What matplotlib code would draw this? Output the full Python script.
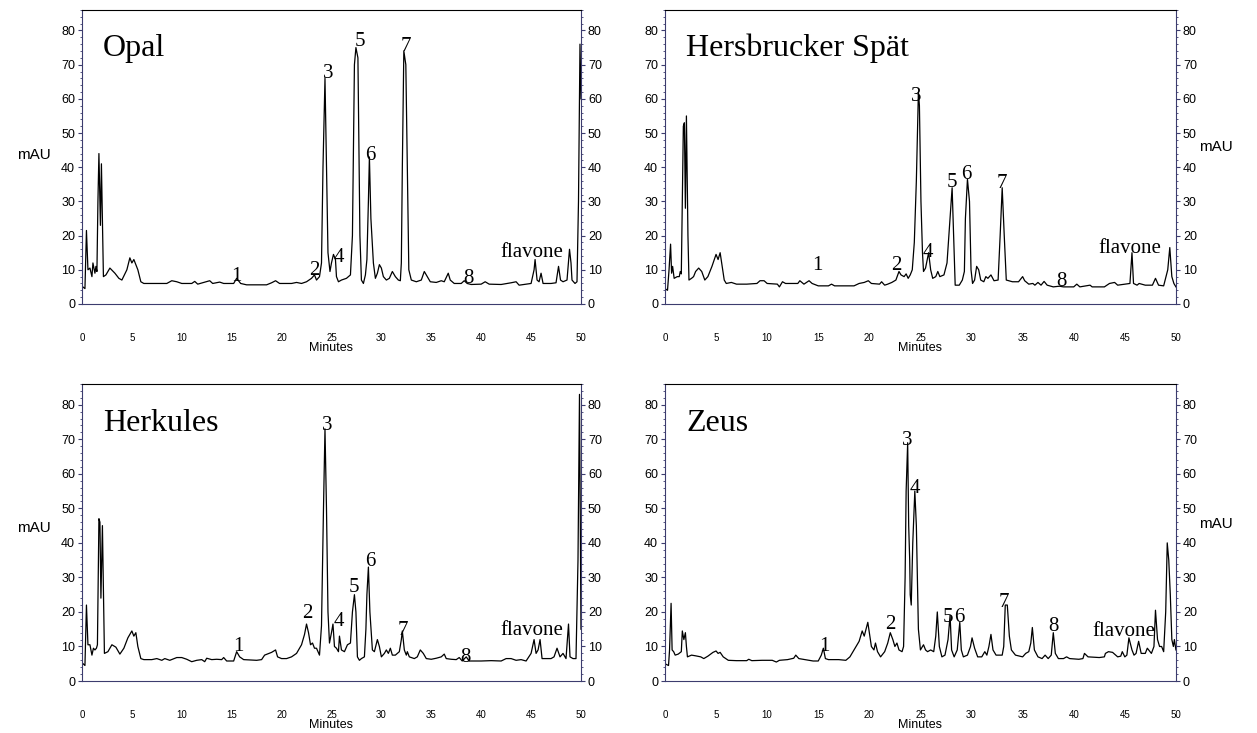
import numpy as np
import matplotlib.pyplot as plt
from matplotlib.ticker import MultipleLocator

# (retention time in minutes, absorbance in mAU)
opal = [(0.0, 5.2), (0.3, 4.5), (0.45, 21.5), (0.6, 10), (0.8, 10.5), (1.0, 8), (1.1, 12), (1.3, 9),
        (1.4, 11), (1.5, 9.5), (1.6, 30), (1.7, 44), (1.85, 23), (1.95, 41), (2.15, 8), (2.4, 8.5),
        (2.8, 10.5), (3.3, 9), (3.7, 7.5), (4.0, 7), (4.5, 10), (4.8, 13.5), (5.0, 12), (5.2, 13),
        (5.6, 10), (5.9, 6.5), (6.2, 6), (8.5, 6), (9.0, 6.8), (9.5, 6.5), (10.0, 6), (11.0, 6),
        (11.3, 6.6), (11.6, 5.8), (12.8, 6.8), (13.1, 6), (13.8, 6.4), (14.2, 6), (15.2, 6), (15.5, 7.5),
        (15.9, 6), (16.5, 5.6), (18.5, 5.6), (19.0, 6.2), (19.4, 6.8), (19.8, 6), (21.0, 6), (21.5, 6.3),
        (22.0, 6), (22.5, 6.5), (23.0, 7.5), (23.3, 8.5), (23.5, 7), (23.8, 8), (24.0, 12), (24.15, 40),
        (24.35, 66), (24.5, 40), (24.65, 15), (24.85, 9.5), (25.0, 12), (25.2, 14.5), (25.4, 13), (25.5, 8),
        (25.7, 6.5), (26.0, 7), (26.5, 7.5), (26.9, 8.5), (27.1, 20), (27.3, 70), (27.45, 75), (27.65, 72),
        (27.85, 20), (28.0, 7), (28.2, 6), (28.4, 8.5), (28.55, 13), (28.7, 30), (28.8, 43), (28.95, 25),
        (29.2, 12), (29.4, 7.5), (29.6, 9), (29.8, 11.5), (30.0, 10.5), (30.2, 8), (30.5, 7), (30.8, 7.5),
        (31.1, 9.5), (31.4, 8), (31.7, 7), (31.9, 6.8), (32.0, 12), (32.1, 40), (32.25, 74), (32.45, 70),
        (32.6, 40), (32.75, 10), (33.0, 7), (33.5, 6.5), (34.0, 7), (34.3, 9.5), (34.6, 8), (34.9, 6.5),
        (35.5, 6.3), (36.0, 6.8), (36.3, 6.5), (36.7, 9), (36.9, 7), (37.3, 6), (38.0, 6), (38.3, 6.8),
        (38.6, 6), (39.0, 5.7), (40.0, 5.8), (40.4, 6.5), (40.8, 5.8), (42.0, 5.7), (43.0, 6.2), (43.5, 6.5),
        (43.8, 5.5), (44.5, 5.8), (45.0, 6), (45.3, 10), (45.4, 13), (45.6, 7), (45.8, 6.5), (46.0, 9),
        (46.2, 6), (47.0, 6), (47.5, 6.2), (47.75, 11), (47.95, 7), (48.2, 6.5), (48.6, 7), (48.85, 16),
        (49.0, 12), (49.1, 7), (49.4, 6), (49.6, 6.5), (49.75, 30), (49.9, 76), (50.0, 60)]

hersbrucker = [(0.0, 4.5), (0.25, 4), (0.4, 10), (0.55, 17.5), (0.65, 9), (0.75, 11), (0.9, 7.5), (1.2, 8),
               (1.4, 8), (1.5, 9.5), (1.6, 8.8), (1.7, 30), (1.8, 52), (1.9, 53), (2.0, 28), (2.1, 55),
               (2.25, 20), (2.35, 7), (2.6, 7.5), (2.8, 8), (3.0, 9.5), (3.3, 10.5), (3.6, 9.5), (3.9, 7),
               (4.2, 8), (4.6, 11), (5.0, 14.5), (5.2, 13), (5.4, 15), (5.6, 11), (5.8, 7), (6.0, 6),
               (6.5, 6.3), (7.0, 5.8), (8.0, 5.8), (9.0, 6), (9.3, 6.8), (9.7, 6.8), (10.0, 6), (11.0, 5.8),
               (11.2, 5), (11.5, 6.5), (11.8, 6), (13.0, 6), (13.2, 6.8), (13.6, 5.8), (14.1, 6.8), (14.4, 6),
               (15.0, 5.3), (16.0, 5.3), (16.3, 5.8), (16.6, 5.3), (18.5, 5.3), (19.0, 6), (19.5, 6.3),
               (19.9, 6.8), (20.2, 6), (21.0, 5.8), (21.2, 6.5), (21.5, 5.5), (21.8, 5.8), (22.2, 6.3),
               (22.6, 7), (22.9, 9.5), (23.1, 8.5), (23.4, 8), (23.6, 8.8), (23.8, 7.5), (24.0, 8.5),
               (24.2, 10), (24.4, 18), (24.6, 36), (24.8, 62), (24.9, 58), (25.05, 30), (25.2, 15),
               (25.3, 9.5), (25.5, 10.5), (25.8, 15), (26.0, 10), (26.2, 7.5), (26.5, 8), (26.7, 9.5),
               (26.9, 8), (27.3, 8.5), (27.6, 12), (27.9, 25), (28.1, 34), (28.25, 20), (28.4, 5.5),
               (28.8, 5.5), (29.1, 7), (29.3, 9.5), (29.4, 25), (29.6, 36.5), (29.8, 30), (29.95, 10),
               (30.1, 6), (30.3, 7), (30.5, 11), (30.7, 10), (30.9, 7), (31.2, 6.5), (31.4, 8), (31.6, 7.5),
               (31.9, 8.5), (32.2, 6.8), (32.6, 7), (32.8, 20), (33.0, 34), (33.2, 20), (33.4, 7), (34.0, 6.5),
               (34.6, 6.5), (35.0, 8), (35.2, 6.8), (35.6, 5.8), (36.0, 6), (36.2, 5.5), (36.5, 6.3),
               (36.8, 5.5), (37.1, 6.6), (37.4, 5.5), (38.0, 5.0), (38.6, 5.2), (39.0, 5.0), (40.0, 5.0),
               (40.3, 5.8), (40.6, 5.0), (41.6, 5.5), (41.8, 5.0), (43.0, 5.0), (43.5, 6), (44.0, 6.3),
               (44.3, 5.5), (45.0, 5.8), (45.5, 6), (45.7, 15), (45.85, 6), (46.2, 5.5), (46.4, 6),
               (47.0, 5.5), (47.7, 5.5), (48.0, 7.5), (48.3, 5.5), (48.8, 5.3), (49.2, 10), (49.4, 16.5),
               (49.6, 8), (49.8, 6), (50.0, 5)]

herkules = [(0.0, 5.3), (0.3, 4.5), (0.45, 22), (0.6, 10.5), (0.8, 10.5), (1.0, 7.5), (1.15, 9.5), (1.3, 9),
            (1.45, 9.5), (1.55, 10.5), (1.7, 47), (1.8, 46), (1.9, 24), (2.05, 45), (2.25, 8), (2.6, 8.5),
            (3.0, 10.5), (3.4, 9.8), (3.8, 7.8), (4.2, 9.5), (4.6, 12.5), (5.0, 14.5), (5.2, 13), (5.4, 14),
            (5.6, 10), (5.9, 6.5), (6.2, 6.2), (7.0, 6.2), (7.5, 6.5), (8.0, 6.0), (8.3, 6.5), (8.8, 6.0),
            (9.5, 6.8), (10.0, 6.8), (10.5, 6.3), (11.0, 5.6), (11.5, 6.0), (12.0, 6.2), (12.3, 5.6),
            (12.5, 6.6), (13.0, 6.2), (13.5, 6.3), (14.0, 6.2), (14.2, 6.8), (14.5, 5.8), (15.2, 5.8),
            (15.5, 8.5), (15.8, 7), (16.2, 6.2), (17.5, 6.0), (18.0, 6.2), (18.3, 7.5), (19.0, 8.3),
            (19.4, 9), (19.6, 7), (20.0, 6.5), (20.5, 6.5), (21.0, 7), (21.5, 8), (22.0, 10.5), (22.3, 13.5),
            (22.5, 16.5), (22.7, 14), (22.9, 10.5), (23.1, 11), (23.3, 9.5), (23.5, 9.5), (23.8, 7.5),
            (24.0, 16), (24.2, 50), (24.35, 73), (24.5, 50), (24.65, 20), (24.8, 11), (25.0, 14),
            (25.15, 16.5), (25.3, 10), (25.5, 9.5), (25.7, 8.5), (25.8, 13), (26.0, 9), (26.3, 8.5),
            (26.6, 10.5), (26.9, 11), (27.1, 20), (27.3, 25), (27.45, 20), (27.6, 7), (27.8, 6), (28.0, 6.5),
            (28.3, 7), (28.45, 15), (28.55, 25), (28.7, 33), (28.85, 20), (29.1, 9), (29.3, 8.5), (29.6, 12),
            (29.8, 10), (30.0, 7), (30.3, 8), (30.5, 9), (30.7, 8), (30.9, 9.5), (31.1, 7.5), (31.4, 7.5),
            (31.8, 8.5), (32.0, 12), (32.1, 14.5), (32.3, 9), (32.5, 7.5), (32.6, 8.5), (32.8, 7),
            (33.3, 6.5), (33.6, 7), (33.9, 9), (34.2, 8), (34.5, 6.5), (35.0, 6.3), (35.5, 6.6), (36.0, 7),
            (36.3, 7.8), (36.5, 6.5), (37.0, 6.3), (37.5, 6.2), (37.8, 6.8), (38.1, 5.8), (38.5, 7),
            (38.8, 5.8), (40.0, 5.8), (41.0, 5.9), (42.0, 5.8), (42.5, 6.5), (43.0, 6.5), (43.5, 6.0),
            (44.0, 6.2), (44.5, 5.8), (45.0, 8), (45.3, 12), (45.5, 8), (45.7, 9), (45.9, 12), (46.1, 6.5),
            (46.5, 6.5), (47.0, 6.5), (47.3, 7), (47.6, 9.5), (47.9, 7), (48.2, 8), (48.5, 6.5),
            (48.75, 16.5), (48.9, 7), (49.2, 6.5), (49.5, 6.5), (49.7, 35), (49.85, 83), (50.0, 15)]

zeus = [(0.0, 5), (0.35, 4.5), (0.45, 9), (0.6, 22.5), (0.7, 9), (0.85, 8.5), (1.0, 7.5), (1.3, 7.8),
        (1.6, 8.5), (1.7, 14.5), (1.85, 12), (2.0, 14), (2.1, 10), (2.2, 7), (2.6, 7.5), (3.0, 7.3),
        (3.5, 7.0), (3.8, 6.5), (4.2, 7.2), (4.7, 8.3), (5.0, 8.7), (5.2, 8), (5.4, 8.3), (5.7, 7),
        (6.2, 6.0), (7.0, 5.9), (8.0, 5.9), (8.2, 6.3), (8.5, 5.9), (9.5, 6.0), (10.5, 6.0), (10.9, 5.5),
        (11.2, 6.0), (12.0, 6.2), (12.6, 6.6), (12.8, 7.5), (13.1, 6.5), (13.5, 6.3), (14.5, 5.8),
        (15.0, 5.8), (15.3, 7.5), (15.5, 9.5), (15.7, 6.5), (16.0, 6.2), (17.0, 6.2), (17.7, 6.0),
        (18.1, 7), (18.5, 9), (19.0, 11.5), (19.3, 14.5), (19.5, 13), (19.85, 17), (20.0, 14), (20.2, 10),
        (20.45, 9), (20.6, 11), (20.8, 8.5), (21.1, 7), (21.5, 8.5), (21.8, 11), (22.05, 14), (22.3, 12),
        (22.5, 10), (22.7, 11), (22.9, 9), (23.2, 8.5), (23.35, 10), (23.5, 30), (23.6, 55), (23.75, 69),
        (23.85, 45), (23.95, 35), (24.0, 25), (24.1, 22), (24.25, 40), (24.45, 55), (24.6, 45), (24.7, 30),
        (24.8, 15), (25.0, 9), (25.3, 10.5), (25.5, 9), (25.7, 8.5), (26.0, 9), (26.3, 8.5), (26.5, 13),
        (26.65, 20), (26.85, 10), (27.1, 7), (27.4, 7.5), (27.7, 12), (27.9, 19), (28.05, 9), (28.3, 7),
        (28.6, 9), (28.85, 17), (29.0, 9), (29.2, 7), (29.6, 7.5), (29.9, 10), (30.05, 12.5), (30.3, 9.5),
        (30.6, 7), (31.0, 7), (31.3, 8.5), (31.5, 7.5), (31.7, 10), (31.9, 13.5), (32.1, 9), (32.4, 7.5),
        (33.0, 7.5), (33.15, 10), (33.3, 22), (33.5, 22), (33.7, 13), (33.9, 9), (34.3, 7.5), (35.0, 7),
        (35.3, 8), (35.6, 8.5), (35.8, 11), (35.95, 15.5), (36.15, 9), (36.5, 7), (36.9, 6.5), (37.2, 7.5),
        (37.5, 6.5), (37.8, 7.5), (38.0, 14), (38.2, 8), (38.5, 6.5), (39.0, 6.5), (39.3, 7), (39.6, 6.5),
        (40.5, 6.3), (40.9, 6.5), (41.05, 8), (41.4, 7), (42.5, 6.8), (43.0, 7), (43.1, 8), (43.4, 8.5),
        (43.8, 8.3), (44.3, 7), (44.6, 7.2), (44.75, 8.5), (45.0, 7), (45.2, 7.5), (45.4, 12.5), (45.7, 9),
        (45.9, 7.5), (46.1, 8), (46.35, 11.5), (46.6, 8), (47.0, 8), (47.2, 9.5), (47.6, 8), (47.85, 10),
        (48.0, 20.5), (48.2, 12), (48.4, 10), (48.6, 10), (48.8, 8.5), (49.0, 20), (49.15, 40), (49.3, 35),
        (49.45, 25), (49.6, 12), (49.75, 10), (49.85, 12), (50.0, 9)]

# peak labels: (text, time, mAU at baseline of the label)
opal_peaks = [('1', 15.5, 6.8), ('2', 23.3, 8.4), ('3', 24.7, 66), ('4', 25.7, 12.3), ('5', 27.85, 75.4),
              ('6', 28.9, 42), ('7', 32.5, 74), ('8', 38.7, 6.0), ('flavone', 45.1, 13.8)]
hersbrucker_peaks = [('1', 14.9, 10), ('2', 22.6, 10), ('3', 24.6, 59.5), ('4', 25.7, 13.8), ('5', 28.05, 34.3),
                     ('6', 29.45, 36.7), ('7', 32.95, 33.8), ('8', 38.8, 5.2), ('flavone', 45.5, 14.8)]
herkules_peaks = [('1', 15.7, 8.8), ('2', 22.55, 18.3), ('3', 24.6, 72.7), ('4', 25.7, 15.8), ('5', 27.25, 25.9),
                  ('6', 28.9, 33.2), ('7', 32.2, 13.2), ('8', 38.4, 5.6), ('flavone', 45.1, 13.2)]
zeus_peaks = [('1', 15.55, 8.7), ('2', 22.05, 15), ('3', 23.7, 68.4), ('4', 24.5, 54.3), ('5', 27.7, 17),
              ('6', 28.8, 17), ('7', 33.2, 21.3), ('8', 38.0, 14.5), ('flavone', 44.9, 13.1)]

serif = ['Liberation Serif', 'DejaVu Serif']
sans = ['Liberation Sans', 'DejaVu Sans']
plt.rcParams['font.family'] = sans

fig = plt.figure(figsize=(12.57, 7.33), dpi=100)

panels = [
    ('Opal', opal, opal_peaks, [0.0652, 0.5853, 0.3970, 0.4011], 'left', 43.5),
    ('Hersbrucker Spät', hersbrucker, hersbrucker_peaks, [0.5290, 0.5853, 0.4065, 0.4011], 'right', 46),
    ('Herkules', herkules, herkules_peaks, [0.0652, 0.0709, 0.3970, 0.4052], 'left', 44.3),
    ('Zeus', zeus, zeus_peaks, [0.5290, 0.0709, 0.4065, 0.4052], 'right', 45.5),
]

axis_col = '#3c3c6e'
for name, trace, peaks, pos, mau_side, mau_y in panels:
    ax = fig.add_axes(pos)
    t, a = np.array(trace).T
    ax.plot(t, a, color='black', lw=0.9)
    ax.set_xlim(0, 50)
    ax.set_ylim(0, 86)
    ax.set_xticks(np.arange(0, 51, 5))
    ax.set_yticks(np.arange(0, 81, 10))
    ax.yaxis.set_minor_locator(MultipleLocator(2))
    ax.tick_params(axis='x', length=0, pad=21, labelsize=7)
    ax.tick_params(axis='y', which='both', left=True, right=True, labelleft=True, labelright=True,
                   direction='out', color=axis_col, labelsize=9, pad=2)
    ax.tick_params(axis='y', which='major', length=3, width=0.8)
    ax.tick_params(axis='y', which='minor', length=1.5, width=0.6)
    for s in ('left', 'right', 'bottom'):
        ax.spines[s].set_color(axis_col)
    ax.set_xlabel('Minutes', fontsize=9, labelpad=-1)

    if mau_side == 'left':
        ax.text(-0.096, mau_y, 'mAU', transform=ax.get_yaxis_transform(), ha='center', va='center', fontsize=11)
    else:
        ax.text(1.078, mau_y, 'mAU', transform=ax.get_yaxis_transform(), ha='center', va='center', fontsize=11)

    ax.text(2.1, 72.5, name, fontsize=23, family=serif, va='baseline', ha='left')
    for label, x, y in peaks:
        ax.text(x, y, label, fontsize=15, family=serif, ha='center', va='baseline')

fig.savefig('out.png', dpi=100)
